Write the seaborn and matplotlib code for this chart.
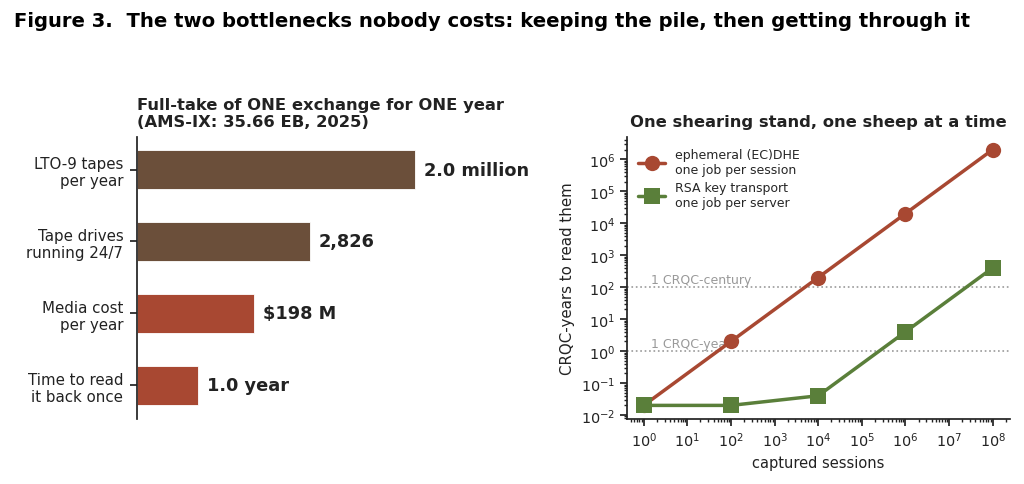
import matplotlib
matplotlib.use("Agg")
import matplotlib.pyplot as plt
import seaborn as sns
import pandas as pd
import numpy as np

sns.set_theme(style="ticks")
plt.rcParams['font.family'] = ['DejaVu Sans']

# ---- left panel data ----
bar_categories = ["LTO-9 tapes\nper year", "Tape drives\nrunning 24/7",
                  "Media cost\nper year", "Time to read\nit back once"]
bar_lengths = [1.0, 0.62, 0.42, 0.22]          # relative bar lengths
bar_labels = ["2.0 million", "2,826", "$198 M", "1.0 year"]
bar_groups = ["store", "store", "read", "read"]

# ---- right panel data ----
sessions = [1, 1e2, 1e4, 1e6, 1e8]
ephemeral_years = [0.02, 2, 200, 2e4, 2e6]
rsa_years = [0.02, 0.02, 0.04, 4, 400]
series_names = ["ephemeral (EC)DHE\none job per session",
                "RSA key transport\none job per server"]

brown = "#6b4f3a"
red = "#a84832"
green = "#5a7f3a"
dark = "#222222"

fig = plt.figure(figsize=(10.24, 4.85), dpi=100)
fig.text(0.014, 0.955, "Figure 3.  The two bottlenecks nobody costs: keeping the pile, then getting through it",
         fontsize=14.1, fontweight="bold", ha="left", va="center", color="black")

# ---------- left ----------
ax1 = fig.add_axes([0.134, 0.134, 0.374, 0.581])
df_bar = pd.DataFrame({"cat": bar_categories, "len": bar_lengths, "grp": bar_groups})
sns.barplot(data=df_bar, y="cat", x="len", hue="grp", palette={"store": brown, "read": red},
            orient="h", width=0.54, dodge=False, legend=False, ax=ax1, saturation=1,
            edgecolor="white", linewidth=0.6)
ax1.set_xlim(0, 1.378)
ax1.set_ylim(3.47, -0.45)
for i, (v, lab) in enumerate(zip(bar_lengths, bar_labels)):
    ax1.text(v + 0.032, i, lab, va="center", ha="left", fontsize=12.8,
             fontweight="bold", color=dark)
ax1.set_xlabel("")
ax1.set_ylabel("")
ax1.set_xticks([])
for s in ["top", "right", "bottom"]:
    ax1.spines[s].set_visible(False)
ax1.spines["left"].set_color(dark)
ax1.tick_params(axis="y", labelsize=10.8, colors=dark, length=5, pad=5)
ax1.set_title("Full-take of ONE exchange for ONE year\n(AMS-IX: 35.66 EB, 2025)",
              loc="left", fontsize=11.8, fontweight="bold", color=dark, pad=8, ha="left")

# ---------- right ----------
ax2 = fig.add_axes([0.612, 0.134, 0.374, 0.581])
df_line = pd.DataFrame({
    "sessions": sessions * 2,
    "years": ephemeral_years + rsa_years,
    "series": [series_names[0]] * len(sessions) + [series_names[1]] * len(sessions),
})
sns.lineplot(data=df_line, x="sessions", y="years", hue="series", style="series",
             markers={series_names[0]: "o", series_names[1]: "s"}, dashes=False,
             palette={series_names[0]: red, series_names[1]: green},
             linewidth=2.5, markersize=11, markeredgewidth=0, ax=ax2, zorder=3)
ax2.set_xscale("log")
ax2.set_yscale("log")
ax2.set_xlim(10 ** -0.39, 10 ** 8.39)
ax2.set_ylim(10 ** -2.125, 10 ** 6.69)
ax2.set_xticks([10.0 ** k for k in range(0, 9)])
ax2.set_yticks([10.0 ** k for k in range(-2, 7)])
ax2.axhline(100, color="#999999", linestyle=":", linewidth=1.2, zorder=1)
ax2.axhline(1, color="#999999", linestyle=":", linewidth=1.2, zorder=1)
ax2.text(1.45, 100 * 1.12, "1 CRQC-century", color="#999999", fontsize=9.0, va="bottom", ha="left", zorder=2)
ax2.text(1.45, 1 * 1.12, "1 CRQC-year", color="#999999", fontsize=9.0, va="bottom", ha="left", zorder=2)
ax2.set_xlabel("captured sessions", fontsize=10.5, color=dark)
ax2.set_ylabel("CRQC-years to read them", fontsize=10.8, color=dark)
ax2.tick_params(axis="both", which="major", labelsize=10.4, colors=dark, length=5)
ax2.tick_params(axis="both", which="minor", length=2.5, colors=dark)
ax2.xaxis.set_minor_locator(matplotlib.ticker.LogLocator(base=10, subs=np.arange(2, 10), numticks=20))
ax2.yaxis.set_minor_locator(matplotlib.ticker.LogLocator(base=10, subs=np.arange(2, 10), numticks=20))
sns.despine(ax=ax2)
ax2.spines["left"].set_color(dark)
ax2.spines["bottom"].set_color(dark)
ax2.set_title("One shearing stand, one sheep at a time", fontsize=11.8, fontweight="bold",
              color=dark, pad=8)
leg = ax2.legend(loc="upper left", fontsize=9, frameon=False, handlelength=2.2,
                 borderaxespad=0.5, labelspacing=0.4)

fig.savefig("out.png", dpi=100)
